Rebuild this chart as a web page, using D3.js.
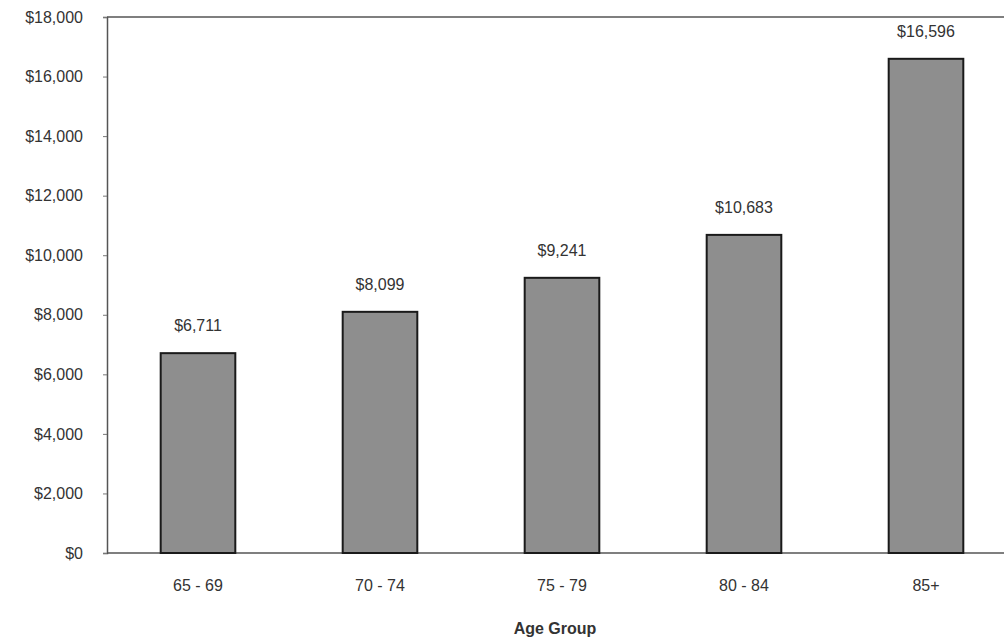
<!DOCTYPE html>
<html>
<head>
<meta charset="utf-8">
<script src="https://cdn.jsdelivr.net/npm/d3@7"></script>
<style>
  html, body { margin: 0; padding: 0; background: #ffffff; }
  svg { display: block; }
  text { font-family: "Liberation Sans", Arial, sans-serif; fill: #333; }
</style>
</head>
<body>
<svg id="chart" width="1004" height="642"></svg>
<script>
// Average annual spending by age group
const categories = ["65 - 69", "70 - 74", "75 - 79", "80 - 84", "85+"];
const values = [6711, 8099, 9241, 10683, 16596];
const yTicks = [0, 2000, 4000, 6000, 8000, 10000, 12000, 14000, 16000, 18000];

const svg = d3.select("#chart");
const plotLeft = 107, plotTop = 17, plotBottom = 553, plotRight = 1017;

const x = d3.scaleBand().domain(categories).range([plotLeft, plotRight]).paddingInner(0.59).paddingOuter(0.295);
const y = d3.scaleLinear().domain([0, 18000]).range([plotBottom, plotTop]);

const money = d => "$" + d3.format(",")(d);

// plot frame: top border and y axis
svg.append("line").attr("x1", plotLeft).attr("x2", 1004).attr("y1", plotTop).attr("y2", plotTop)
  .attr("stroke", "#555").attr("stroke-width", 1.5);

const yAxis = svg.append("g").attr("transform", `translate(${plotLeft},0)`)
  .call(d3.axisLeft(y).tickValues(yTicks).tickFormat(money).tickSize(4).tickPadding(20));
yAxis.select(".domain").attr("stroke", "#555").attr("stroke-width", 1.5);
yAxis.selectAll(".tick line").attr("stroke", "#777");
yAxis.selectAll("text").style("font-size", "16px").attr("fill", "#333");

// baseline
svg.append("line").attr("x1", plotLeft).attr("x2", 1004).attr("y1", plotBottom).attr("y2", plotBottom)
  .attr("stroke", "#555").attr("stroke-width", 1.5);

// bars
svg.append("g").selectAll("rect").data(values).join("rect")
  .attr("x", (d, i) => x(categories[i]))
  .attr("y", d => y(d))
  .attr("width", x.bandwidth())
  .attr("height", d => y(0) - y(d))
  .attr("fill", "#8e8e8e")
  .attr("stroke", "#1a1a1a")
  .attr("stroke-width", 2);

// value labels
svg.append("g").selectAll("text").data(values).join("text")
  .attr("x", (d, i) => x(categories[i]) + x.bandwidth() / 2)
  .attr("y", d => y(d) - 22)
  .attr("text-anchor", "middle")
  .style("font-size", "16px")
  .text(money);

// category labels
svg.append("g").selectAll("text").data(categories).join("text")
  .attr("x", d => x(d) + x.bandwidth() / 2)
  .attr("y", 591)
  .attr("text-anchor", "middle")
  .style("font-size", "16px")
  .text(d => d);

// axis title
svg.append("text")
  .attr("x", 555).attr("y", 634)
  .attr("text-anchor", "middle")
  .style("font-size", "16px").style("font-weight", "bold")
  .attr("fill", "#222")
  .text("Age Group");
</script>
</body>
</html>
